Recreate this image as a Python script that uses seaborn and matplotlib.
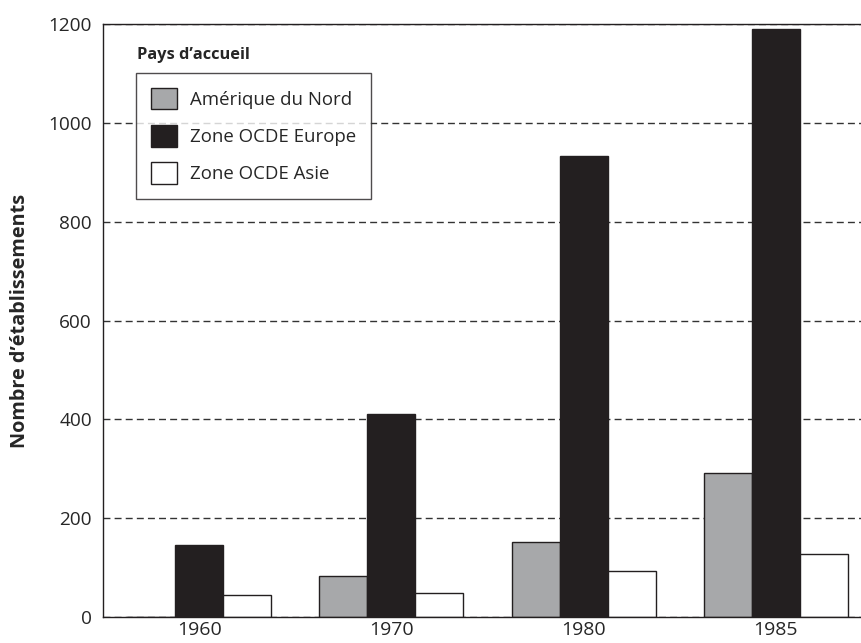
import matplotlib
matplotlib.use("Agg")
import matplotlib.pyplot as plt
from matplotlib.patches import Patch
import seaborn as sns
import pandas as pd

years = ["1960", "1970", "1980", "1985"]
series_names = ["Amérique du Nord", "Zone OCDE Europe", "Zone OCDE Asie"]
amerique_nord = [0, 83, 152, 292]
ocde_europe = [146, 410, 933, 1190]
ocde_asie = [44, 48, 94, 127]
colors = ["#a7a8aa", "#231f20", "#ffffff"]
y_ticks = [0, 200, 400, 600, 800, 1000, 1200]

rows = []
for name, vals in zip(series_names, [amerique_nord, ocde_europe, ocde_asie]):
    for y, v in zip(years, vals):
        rows.append({"Année": y, "Pays": name, "Valeur": v})
df = pd.DataFrame(rows)

sns.set_style("white")
plt.rcParams["font.family"] = ["Open Sans", "DejaVu Sans"]

fig = plt.figure(figsize=(8.61, 6.43), dpi=100)
ax = fig.add_axes([103 / 861, 26 / 643, 769 / 861, 593 / 643])

sns.barplot(data=df, x="Année", y="Valeur", hue="Pays", order=years,
            hue_order=series_names, palette=colors, width=0.75,
            edgecolor="#231f20", linewidth=1.0, saturation=1, ax=ax,
            legend=False, errorbar=None)

ax.set_xlim(-0.5, 3.5)
ax.set_ylim(0, 1200)
ax.set_yticks(y_ticks)
ax.set_yticklabels([str(t) for t in y_ticks], fontsize=13.7)
ax.set_xticks(range(len(years)))
ax.set_xticklabels(years, fontsize=14)
ax.tick_params(axis="y", length=5, width=0.8, color="#555555", pad=3)
ax.tick_params(axis="x", length=0, pad=3)
ax.set_xlabel("")
ax.set_ylabel("Nombre d’établissements", fontsize=14.3, fontweight="bold", labelpad=13)

ax.yaxis.grid(True, linestyle=(0, (5, 3)), color="#333333", linewidth=1.0)
ax.set_axisbelow(True)
for s in ["left", "bottom", "top"]:
    ax.spines[s].set_color("#231f20")
    ax.spines[s].set_linewidth(1.0)
    ax.spines[s].set_visible(True)
ax.spines["right"].set_visible(False)

handles = [Patch(facecolor=c, edgecolor="#231f20", linewidth=1.0) for c in colors]
leg = ax.legend(handles, series_names, loc="upper left",
                bbox_to_anchor=(33 / 769, 1 - 49 / 593), fontsize=13.4,
                frameon=True, fancybox=False, edgecolor="#231f20",
                handlelength=1.4, handleheight=1.4, labelspacing=0.84,
                borderpad=0.8, handletextpad=0.7, borderaxespad=0)
leg.get_frame().set_linewidth(1.0)
ax.text(34 / 769, 1 - 31 / 593, "Pays d’accueil", transform=ax.transAxes,
        fontsize=11.8, fontweight="bold", ha="left", va="center")

fig.savefig("out.png", dpi=100, facecolor="white")
